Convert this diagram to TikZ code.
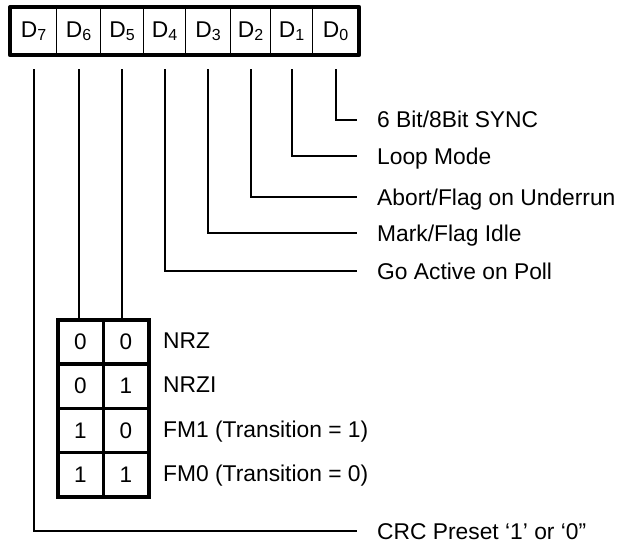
\documentclass[tikz,border=0pt]{standalone}
\usepackage{fontspec}
\setmainfont{Liberation Sans}
\newcommand{\regbit}[1]{D\raisebox{-3pt}{\fontsize{16}{16}\selectfont #1}}
\begin{document}
\begin{tikzpicture}[x=1pt,y=-1pt,
  cell/.style={draw, line width=1.2pt, minimum height=47pt, inner sep=0pt, anchor=north west, font=\fontsize{22.8}{27}\selectfont},
  bitcell/.style={draw, line width=3.5pt, minimum width=45.5pt, minimum height=44.25pt, inner sep=0pt, anchor=north west, font=\fontsize{22.5}{26}\selectfont},
  lbl/.style={anchor=west, inner sep=0pt, text height=16pt, text depth=0pt, font=\fontsize{22.8}{27}\selectfont},
  wire/.style={line width=2pt},
  outer/.style={line width=4pt, line join=round}]
\useasboundingbox (0,0) rectangle (619,543);

% register cells
\node[cell, minimum width=46pt] (d7) at (10,7) {\regbit{7}};
\node[cell, minimum width=44pt] (d6) at (56,7) {\regbit{6}};
\node[cell, minimum width=43pt] (d5) at (100,7) {\regbit{5}};
\node[cell, minimum width=42pt] (d4) at (143,7) {\regbit{4}};
\node[cell, minimum width=45pt] (d3) at (185,7) {\regbit{3}};
\node[cell, minimum width=40pt] (d2) at (230,7) {\regbit{2}};
\node[cell, minimum width=42pt] (d1) at (270,7) {\regbit{1}};
\node[cell, minimum width=46pt] (d0) at (312,7) {\regbit{0}};
\draw[outer] (d7.north west) rectangle (d0.south east);

% start points of the wires, just below the register
\foreach \b in {0,...,7} {\coordinate (s\b) at ([yshift=-14pt]d\b.south);}

% right-side labels
\node[lbl] (l0) at (377,120) {6 Bit/8Bit SYNC};
\node[lbl] (l1) at (377,156) {Loop Mode};
\node[lbl] (l2) at (377,197) {Abort/Flag on Underrun};
\node[lbl] (l3) at (377,233) {Mark/Flag Idle};
\node[lbl] (l4) at (377,271) {Go Active on Poll};
\node[lbl] (l7) at (377,531) {CRC Preset ‘1’ or ‘0”};

% encoding table
\node[bitcell] (t00) at (56,318) {0};
\node[bitcell] (t01) at (101.5,318) {0};
\node[bitcell] (t10) at (56,362.25) {0};
\node[bitcell] (t11) at (101.5,362.25) {1};
\node[bitcell] (t20) at (56,406.5) {1};
\node[bitcell] (t21) at (101.5,406.5) {0};
\node[bitcell] (t30) at (56,450.75) {1};
\node[bitcell] (t31) at (101.5,450.75) {1};

\node[lbl] (e0) at (163,340) {NRZ};
\node[lbl] (e1) at (163,384.5) {NRZI};
\node[lbl] (e2) at (163,429) {FM1 (Transition = 1)};
\node[lbl] (e3) at (163,473) {FM0 (Transition = 0)};

% connectors
\draw[wire] (s0) |- ([xshift=-20pt]l0.west);
\draw[wire] (s1) |- ([xshift=-20pt]l1.west);
\draw[wire] (s2) |- ([xshift=-20pt]l2.west);
\draw[wire] (s3) |- ([xshift=-20pt]l3.west);
\draw[wire] (s4) |- ([xshift=-20pt]l4.west);
\draw[wire] (s7) |- ([xshift=-20pt]l7.west);
\draw[wire] (s6) -- (s6 |- t00.north);
\draw[wire] (s5) -- (s5 |- t01.north);
\end{tikzpicture}
\end{document}
